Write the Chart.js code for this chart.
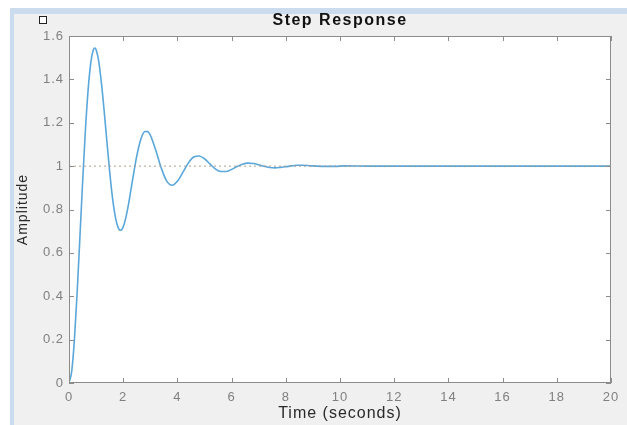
<!DOCTYPE html>
<html>
<head>
<meta charset="utf-8">
<script src="https://cdn.jsdelivr.net/npm/chart.js@4.4.1/dist/chart.umd.min.js"></script>
<style>
  html, body { margin: 0; padding: 0; background: #ffffff; }
  #fig {
    position: absolute; left: 10px; top: 8px; width: 613px; height: 411px;
    background: #f0f0f0;
    border-top: 6px solid #ccdcef; border-left: 4px solid #ccdcef;
  }
  #box {
    position: absolute; left: 39px; top: 16px; width: 6px; height: 6px;
    background: #ffffff; border: 1px solid #222222;
  }
  #wrap { position: absolute; left: 0; top: 0; width: 627px; height: 425px; }
</style>
</head>
<body>
<div id="fig"></div>
<div id="wrap"><canvas id="grafico" width="627" height="425"></canvas></div>
<div id="box"></div>
<script>
// datos
const tiempo = [0, 0.1, 0.2, 0.3, 0.4, 0.5, 0.6, 0.7, 0.8, 0.9, 0.95, 1.0, 1.1, 1.2, 1.3, 1.4, 1.5, 1.6, 1.7, 1.8, 1.9, 2.0,
  2.1, 2.2, 2.3, 2.4, 2.5, 2.6, 2.7, 2.8, 2.9, 3.0, 3.2, 3.4, 3.6, 3.8, 4.0, 4.2, 4.4, 4.6, 4.8, 5.0,
  5.2, 5.4, 5.6, 5.8, 6.0, 6.2, 6.4, 6.6, 6.8, 7.0, 7.2, 7.4, 7.6, 7.8, 8.0, 8.2, 8.4, 8.6, 8.8, 9.0,
  9.4, 9.8, 10.2, 11, 12, 14, 16, 18, 20];
const amplitud = [0, 0.054, 0.20, 0.416, 0.666, 0.92, 1.154, 1.343, 1.473, 1.537, 1.545, 1.537, 1.481, 1.379, 1.251, 1.111, 0.976, 0.859, 0.773, 0.721, 0.704, 0.72,
  0.764, 0.827, 0.902, 0.977, 1.046, 1.102, 1.141, 1.16, 1.159, 1.143, 1.074, 0.993, 0.932, 0.912, 0.93, 0.971, 1.014, 1.042, 1.047, 1.034,
  1.01, 0.987, 0.975, 0.975, 0.985, 0.998, 1.009, 1.014, 1.012, 1.006, 0.999, 0.994, 0.992, 0.994, 0.997, 1.001, 1.004, 1.004, 1.003, 1.001,
  0.999, 0.999, 1.001, 1.0, 1.0, 1.0, 1.0, 1.0, 1.0];
const valorFinal = 1;
const xTicks = ["0", "2", "4", "6", "8", "10", "12", "14", "16", "18", "20"];
const yTicks = ["0", "0.2", "0.4", "0.6", "0.8", "1", "1.2", "1.4", "1.6"];
const titulo = "Step Response";

const serie = tiempo.map((t, i) => ({ x: t, y: amplitud[i] }));
const lineaFinal = [{ x: 0, y: valorFinal }, { x: 20, y: valorFinal }];

const colorEje = "#8c8c8c";
const fuente = "Liberation Sans, Arial, sans-serif";

// marco de la caja con marcas hacia adentro + título centrado sobre el área
const marcoPlugin = {
  id: "marco",
  beforeDraw(chart) {
    chart.ctx.letterSpacing = "1px";
  },
  beforeDatasetsDraw(chart) {
    const { ctx, chartArea: a } = chart;
    ctx.save();
    ctx.fillStyle = "#ffffff";
    ctx.fillRect(a.left, a.top, a.right - a.left, a.bottom - a.top);
    ctx.restore();
  },
  afterDatasetsDraw(chart) {
    const { ctx, chartArea: a, scales } = chart;
    ctx.save();
    ctx.strokeStyle = colorEje;
    ctx.lineWidth = 1;
    ctx.strokeRect(a.left + 0.5, a.top + 0.5, a.right - a.left - 1, a.bottom - a.top - 1);
    ctx.beginPath();
    scales.x.ticks.forEach(tk => {
      const px = Math.round(scales.x.getPixelForValue(tk.value)) + 0.5;
      ctx.moveTo(px, a.bottom); ctx.lineTo(px, a.bottom - 5);
      ctx.moveTo(px, a.top); ctx.lineTo(px, a.top + 5);
    });
    scales.y.ticks.forEach(tk => {
      const py = Math.round(scales.y.getPixelForValue(tk.value)) + 0.5;
      ctx.moveTo(a.left, py); ctx.lineTo(a.left + 5, py);
      ctx.moveTo(a.right, py); ctx.lineTo(a.right - 5, py);
    });
    ctx.stroke();

    ctx.letterSpacing = "1.5px";
    ctx.fillStyle = "#111111";
    ctx.font = "bold 16px " + fuente;
    ctx.textAlign = "center";
    ctx.textBaseline = "middle";
    ctx.fillText(titulo, (a.left + a.right) / 2, a.top - 15);
    ctx.restore();
  }
};

const chart = new Chart(document.getElementById("grafico"), {
  type: "line",
  data: {
    datasets: [
      {
        data: lineaFinal,
        borderColor: "rgba(170,150,130,0.9)",
        borderWidth: 1,
        borderDash: [2, 3],
        pointRadius: 0
      },
      {
        data: serie,
        borderColor: "#5aa7db",
        borderWidth: 1.6,
        pointRadius: 0,
        cubicInterpolationMode: "monotone"
      }
    ]
  },
  options: {
    responsive: false,
    animation: false,
    layout: { padding: { left: 0, right: 16, top: 36, bottom: 0 } },
    plugins: {
      legend: { display: false },
      tooltip: { enabled: false },
      title: { display: false }
    },
    scales: {
      x: {
        type: "linear",
        min: 0, max: 20,
        afterBuildTicks: s => { s.ticks = xTicks.map(v => ({ value: Number(v) })); },
        afterFit: s => { s.height = 42; },
        grid: { display: false, drawTicks: false },
        border: { display: false },
        ticks: {
          color: "#808080", padding: 7, maxRotation: 0,
          font: { family: fuente, size: 13 },
          callback: (v, i) => xTicks[i]
        },
        title: {
          display: true, text: "Time (seconds)", color: "#2a2a2a",
          font: { family: fuente, size: 16 },
          padding: { top: 0, bottom: 2 }
        }
      },
      y: {
        min: 0, max: 1.6,
        afterBuildTicks: s => { s.ticks = yTicks.map(v => ({ value: Number(v) })); },
        afterFit: s => { s.width = 69; },
        grid: { display: false, drawTicks: false },
        border: { display: false },
        ticks: {
          color: "#808080", padding: 5,
          font: { family: fuente, size: 13 },
          callback: (v, i) => yTicks[i]
        },
        title: {
          display: true, text: "Amplitude", color: "#2a2a2a",
          font: { family: fuente, size: 14 },
          padding: { top: 15, bottom: 0 }
        }
      }
    }
  },
  plugins: [marcoPlugin]
});
</script>
</body>
</html>
